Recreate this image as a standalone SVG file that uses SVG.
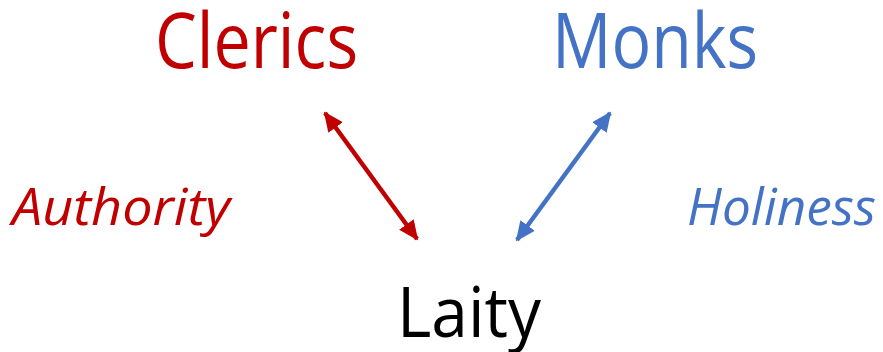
<svg xmlns="http://www.w3.org/2000/svg" width="883" height="352" viewBox="0 0 883 352">
<style>
text{font-family:"Open Sans","Noto Sans","Liberation Sans",sans-serif;text-anchor:middle}
.red{fill:#C00000}
.blue{fill:#4472C4}
.it{font-style:italic}
</style>
<defs>
<marker id="ar" markerUnits="userSpaceOnUse" markerWidth="20" markerHeight="20" viewBox="0 0 20 20" refX="18" refY="10" orient="auto-start-reverse"><path d="M0,1 L20,10 L0,19 Z" fill="#C00000"/></marker>
<marker id="ab" markerUnits="userSpaceOnUse" markerWidth="20" markerHeight="20" viewBox="0 0 20 20" refX="18" refY="10" orient="auto-start-reverse"><path d="M0,1 L20,10 L0,19 Z" fill="#4472C4"/></marker>
</defs>
<rect width="883" height="352" fill="#fff"/>
<g id="connectors">
<line x1="325" y1="113" x2="417" y2="239" stroke="#C00000" stroke-width="4.5" marker-start="url(#ar)" marker-end="url(#ar)"/>
<line x1="610" y1="113" x2="517" y2="240" stroke="#4472C4" stroke-width="4.5" marker-start="url(#ab)" marker-end="url(#ab)"/>
</g>
<g id="clerics"><text class="red" x="256.5" y="68" font-size="76" textLength="203" lengthAdjust="spacingAndGlyphs">Clerics</text></g>
<g id="monks"><text class="blue" x="655" y="68" font-size="76" textLength="206" lengthAdjust="spacingAndGlyphs">Monks</text></g>
<g id="laity"><text x="469" y="337" font-size="69" textLength="144" lengthAdjust="spacingAndGlyphs">Laity</text></g>
<g id="authority"><text class="red it" x="121" y="225" font-size="52" textLength="218" lengthAdjust="spacingAndGlyphs">Authority</text></g>
<g id="holiness"><text class="blue it" x="781.5" y="225" font-size="52" textLength="189" lengthAdjust="spacingAndGlyphs">Holiness</text></g>
</svg>
